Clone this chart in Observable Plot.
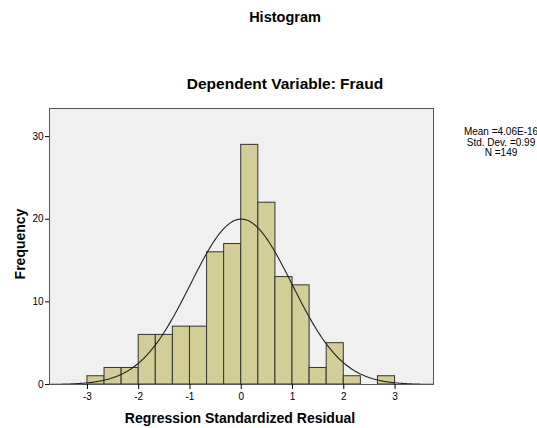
<!DOCTYPE html>
<html><head><meta charset="utf-8">
<script src="https://cdn.jsdelivr.net/npm/d3@7"></script>
<script src="https://cdn.jsdelivr.net/npm/@observablehq/plot@0.6"></script>
<style>
body{margin:0;background:#fff;font-family:"Liberation Sans",Arial,sans-serif;}
#wrap{position:relative;width:537px;height:428px;overflow:hidden;}
.t{position:absolute;white-space:nowrap;color:#000;}
</style></head><body>
<div id="wrap"></div>
<script>
const binStarts = [-3, -8/3, -7/3, -2, -5/3, -4/3, -1, -2/3, -1/3, 0, 1/3, 2/3, 1, 4/3, 5/3, 2, 7/3, 8/3];
const counts = [1, 2, 2, 6, 6, 7, 7, 16, 17, 29, 22, 13, 12, 2, 5, 1, 0, 1];
const binWidth = 1/3;
const mean = 4.06e-16, sd = 0.99, n = 149;
const xTicks = [-3, -2, -1, 0, 1, 2, 3];
const yTicks = [0, 10, 20, 30];
const legendLines = ["Mean =4.06E-16", "Std. Dev. =0.99", "N =149"];

const bars = binStarts.map((s, i) => ({x1: s, x2: s + binWidth, y: counts[i]})).filter(d => d.y > 0);
const curve = d3.range(-3.74, 3.75, 0.02).map(x => ({x, y: n * binWidth * Math.exp(-0.5 * ((x - mean) / sd) ** 2) / (sd * Math.sqrt(2 * Math.PI))}));

const plot = Plot.plot({
  width: 537, height: 428,
  marginLeft: 49, marginRight: 104, marginTop: 108, marginBottom: 44,
  style: {fontFamily: '"Liberation Sans", Arial, sans-serif', fontSize: "10px", color: "#000", background: "#fff"},
  x: {domain: [-3.74, 3.75], label: null},
  y: {domain: [0, 33.4], label: null},
  marks: [
    Plot.frame({fill: "#f0f0f0"}),
    Plot.rectY(bars, {x1: "x1", x2: "x2", y: "y", fill: "#d3ce97", stroke: "#333", strokeWidth: 1}),
    Plot.line(curve, {x: "x", y: "y", stroke: "#222", strokeWidth: 1.1}),
    Plot.frame({stroke: "#555", strokeWidth: 1}),
    Plot.axisX({ticks: xTicks, tickFormat: d => String(d), tickSize: 5, tickPadding: 3}),
    Plot.axisY({ticks: yTicks, tickFormat: d => String(d), tickSize: 4, tickPadding: 2})
  ]
});
const wrap = document.getElementById("wrap");
wrap.appendChild(plot);
plot.style.position = "absolute"; plot.style.left = "0"; plot.style.top = "0";

function addText(txt, css) {
  const d = document.createElement("div");
  d.className = "t"; d.textContent = txt;
  Object.assign(d.style, css);
  wrap.appendChild(d);
}
addText("Histogram", {left: "0", width: "570px", textAlign: "center", top: "9px", fontSize: "14.5px", fontWeight: "bold"});
addText("Dependent Variable: Fraud", {left: "0", width: "570px", textAlign: "center", top: "75px", fontSize: "15.5px", fontWeight: "bold"});
addText("Regression Standardized Residual", {left: "40px", width: "400px", textAlign: "center", top: "410px", fontSize: "14px", fontWeight: "bold"});
addText("Frequency", {left: "20px", top: "244px", fontSize: "14px", fontWeight: "bold", transform: "translate(-50%,-50%) rotate(-90deg)"});
legendLines.forEach((l, i) => addText(l, {left: "450px", width: "102px", textAlign: "center", top: (127 + i * 10.5) + "px", fontSize: "10px", lineHeight: "10.5px"}));
</script>
</body></html>
